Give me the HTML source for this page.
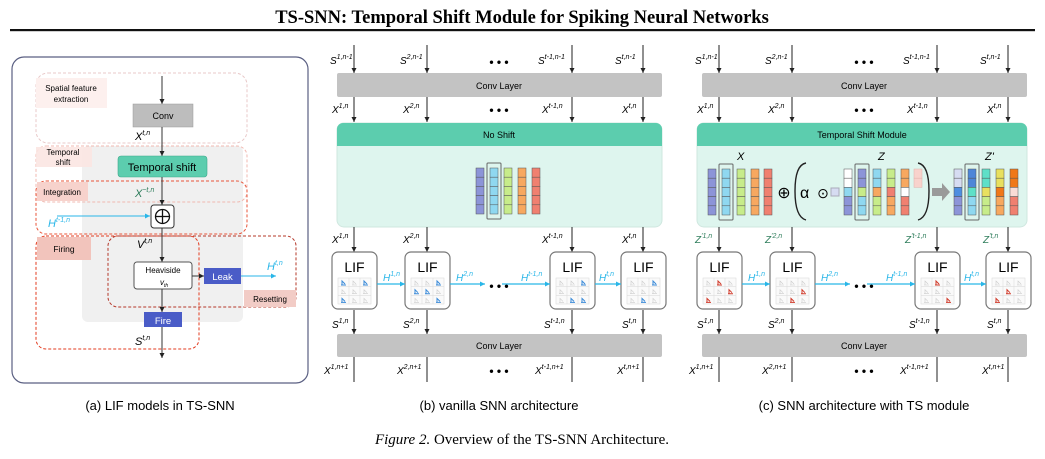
<!DOCTYPE html>
<html><head><meta charset="utf-8"><style>
html,body{margin:0;padding:0;background:#fff}
svg{display:block}
.s{font-family:"Liberation Sans",sans-serif}
.i{font-family:"Liberation Sans",sans-serif;font-style:italic}
</style></head><body>
<svg id="g" width="1045" height="459" viewBox="0 0 1045 459" xmlns="http://www.w3.org/2000/svg">
<defs>
<marker id="ab" markerWidth="6" markerHeight="6" refX="5" refY="3" orient="auto" markerUnits="userSpaceOnUse"><path d="M0,0.5 L5,3 L0,5.5z" fill="#222"/></marker>
<marker id="ac" markerWidth="6" markerHeight="6" refX="5" refY="3" orient="auto" markerUnits="userSpaceOnUse"><path d="M0,0.5 L5,3 L0,5.5z" fill="#29b6e8"/></marker>
</defs>
<text x="522" y="23" text-anchor="middle" font-family="Liberation Serif,serif" font-weight="bold" font-size="18.5">TS-SNN: Temporal Shift Module for Spiking Neural Networks</text>
<rect x="10" y="29" width="1025" height="2.2" fill="#111"/>

<!-- Panel A -->
<rect x="12" y="57" width="296" height="326" rx="12" fill="#fff" stroke="#5a5f82" stroke-width="1.2"/>
<rect x="82" y="146" width="161" height="176" rx="6" fill="#f0f0f0"/>
<rect x="36" y="73" width="211" height="70" rx="12" fill="none" stroke="#e8c8c8" stroke-dasharray="3,2"/>
<rect x="36" y="78" width="71" height="30" fill="#fdf0ee"/>
<text class="s" x="71" y="91" font-size="8" text-anchor="middle">Spatial feature</text>
<text class="s" x="71" y="102" font-size="8" text-anchor="middle">extraction</text>
<rect x="36" y="146" width="211" height="56" rx="10" fill="none" stroke="#f0b8b0" stroke-dasharray="3,2"/>
<rect x="36" y="147" width="56" height="20" fill="#fbe6e2" opacity="0.9"/>
<text class="s" x="63" y="155" font-size="8" text-anchor="middle">Temporal</text>
<text class="s" x="63" y="165" font-size="8" text-anchor="middle">shift</text>
<rect x="36" y="181" width="211" height="53" rx="10" fill="none" stroke="#e8553a" stroke-dasharray="3,2"/>
<rect x="37" y="182" width="51" height="19" fill="#f7d2cc"/>
<text class="s" x="62" y="195" font-size="8" text-anchor="middle">Integration</text>
<rect x="36" y="236" width="163" height="113" rx="10" fill="none" stroke="#e33b1f" stroke-dasharray="3,2"/>
<rect x="37" y="237" width="54" height="23" fill="#f2c4bc"/>
<text class="s" x="64" y="252" font-size="8.5" text-anchor="middle">Firing</text>
<rect x="108" y="236" width="188" height="71" rx="10" fill="none" stroke="#b5382a" stroke-dasharray="3,2"/>
<rect x="244" y="290" width="52" height="17" fill="#f2ccc6"/>
<text class="s" x="270" y="302" font-size="8" text-anchor="middle">Resetting</text>
<line x1="162" y1="76" x2="162" y2="104" stroke="#333" marker-end="url(#ab)"/>
<rect x="133" y="104" width="60" height="23" fill="#bdbdbd" stroke="#999" stroke-width=".5"/>
<text class="s" x="163" y="119" font-size="9" text-anchor="middle">Conv</text>
<line x1="162" y1="127" x2="162" y2="156" stroke="#333" marker-end="url(#ab)"/>
<text class="i" x="135" y="140" font-size="11">X<tspan dy="-5" font-size="7">t,n</tspan></text>
<rect x="118" y="156" width="89" height="21" rx="3" fill="#5ccdae" stroke="#3da88a" stroke-width=".6"/>
<text class="s" x="162" y="171" font-size="11" text-anchor="middle">Temporal shift</text>
<line x1="162" y1="177" x2="162" y2="205" stroke="#333" marker-end="url(#ab)"/>
<text class="i" x="135" y="197" font-size="11" fill="#2e7d5b">X<tspan dy="-5" font-size="7">~t,n</tspan></text>
<rect x="151" y="205" width="23" height="23" rx="3" fill="#fff" stroke="#333"/>
<circle cx="162.5" cy="216.5" r="7" fill="none" stroke="#111" stroke-width="1.3"/>
<line x1="155.5" y1="216.5" x2="169.5" y2="216.5" stroke="#111" stroke-width="1.3"/>
<line x1="162.5" y1="209.5" x2="162.5" y2="223.5" stroke="#111" stroke-width="1.3"/>
<line x1="57" y1="216" x2="150" y2="216" stroke="#29b6e8" marker-end="url(#ac)"/>
<text class="i" x="48" y="227" font-size="11" fill="#29b6e8">H<tspan dy="-5" font-size="7">t-1,n</tspan></text>
<line x1="162" y1="228" x2="162" y2="262" stroke="#333" marker-end="url(#ab)"/>
<text class="i" x="137" y="248" font-size="11">V<tspan dy="-5" font-size="7">t,n</tspan></text>
<rect x="134" y="262" width="58" height="27" rx="3" fill="#fff" stroke="#555"/>
<text class="s" x="163" y="273" font-size="8" text-anchor="middle">Heaviside</text>
<text class="i" x="160" y="285" font-size="8">v<tspan dy="2" font-size="5">th</tspan></text>
<line x1="192" y1="276" x2="204" y2="276" stroke="#333" marker-end="url(#ab)"/>
<rect x="204" y="268" width="37" height="16" fill="#4a5cc7"/>
<text class="s" x="222.5" y="280" font-size="9.5" fill="#fff" text-anchor="middle">Leak</text>
<line x1="241" y1="276" x2="276" y2="276" stroke="#29b6e8" marker-end="url(#ac)"/>
<text class="i" x="267" y="270" font-size="11" fill="#29b6e8">H<tspan dy="-5" font-size="7">t,n</tspan></text>
<line x1="162" y1="289" x2="162" y2="312" stroke="#333" marker-end="url(#ab)"/>
<rect x="144" y="312" width="38" height="15" fill="#4a5cc7"/>
<text class="s" x="163" y="324" font-size="9.5" fill="#fff" text-anchor="middle">Fire</text>
<line x1="162" y1="327" x2="162" y2="358" stroke="#333" marker-end="url(#ab)"/>
<text class="i" x="135" y="345" font-size="11">S<tspan dy="-5" font-size="7">t,n</tspan></text>
<text class="s" x="160" y="410" font-size="13" text-anchor="middle">(a) LIF models in TS-SNN</text>

<!-- Panel B -->
<g id="pb">
<rect x="337" y="73" width="325" height="24" rx="2" fill="#c3c3c3"/>
<text class="s" x="499" y="89" font-size="9" text-anchor="middle">Conv Layer</text>
<rect x="337" y="334" width="325" height="23" rx="2" fill="#c3c3c3"/>
<text class="s" x="499" y="349" font-size="9" text-anchor="middle">Conv Layer</text>
</g>
<rect x="337" y="123" width="325" height="104" rx="7" fill="#def5ee" stroke="#cfe7df"/>
<path d="M337,146 V129 a6,6 0 0 1 6,-6 H656 a6,6 0 0 1 6,6 V146z" fill="#5ccdae"/>
<text class="s" x="499" y="138" font-size="9" text-anchor="middle">No Shift</text>

<text class="i" x="330" y="64" font-size="10">S<tspan dy="-5" font-size="7">1,n-1</tspan></text>
<text class="i" x="400" y="64" font-size="10">S<tspan dy="-5" font-size="7">2,n-1</tspan></text>
<text class="i" x="538" y="64" font-size="10">S<tspan dy="-5" font-size="7">t-1,n-1</tspan></text>
<text class="i" x="615" y="64" font-size="10">S<tspan dy="-5" font-size="7">t,n-1</tspan></text>
<text class="i" x="332" y="113" font-size="10">X<tspan dy="-5" font-size="7">1,n</tspan></text>
<text class="i" x="403" y="113" font-size="10">X<tspan dy="-5" font-size="7">2,n</tspan></text>
<text class="i" x="542" y="113" font-size="10">X<tspan dy="-5" font-size="7">t-1,n</tspan></text>
<text class="i" x="622" y="113" font-size="10">X<tspan dy="-5" font-size="7">t,n</tspan></text>
<text class="i" x="332" y="243" font-size="10">X<tspan dy="-5" font-size="7">1,n</tspan></text>
<text class="i" x="403" y="243" font-size="10">X<tspan dy="-5" font-size="7">2,n</tspan></text>
<text class="i" x="542" y="243" font-size="10">X<tspan dy="-5" font-size="7">t-1,n</tspan></text>
<text class="i" x="622" y="243" font-size="10">X<tspan dy="-5" font-size="7">t,n</tspan></text>
<text class="i" x="332" y="328" font-size="10">S<tspan dy="-5" font-size="7">1,n</tspan></text>
<text class="i" x="403" y="328" font-size="10">S<tspan dy="-5" font-size="7">2,n</tspan></text>
<text class="i" x="544" y="328" font-size="10">S<tspan dy="-5" font-size="7">t-1,n</tspan></text>
<text class="i" x="622" y="328" font-size="10">S<tspan dy="-5" font-size="7">t,n</tspan></text>
<text class="i" x="324" y="374" font-size="10">X<tspan dy="-5" font-size="7">1,n+1</tspan></text>
<text class="i" x="397" y="374" font-size="10">X<tspan dy="-5" font-size="7">2,n+1</tspan></text>
<text class="i" x="535" y="374" font-size="10">X<tspan dy="-5" font-size="7">t-1,n+1</tspan></text>
<text class="i" x="617" y="374" font-size="10">X<tspan dy="-5" font-size="7">t,n+1</tspan></text>
<text class="s" x="499" y="66" font-size="12" text-anchor="middle" font-weight="bold">• • •</text>
<text class="s" x="499" y="114" font-size="12" text-anchor="middle" font-weight="bold">• • •</text>
<text class="s" x="499" y="290" font-size="12" text-anchor="middle" font-weight="bold">• • •</text>
<text class="s" x="499" y="375" font-size="12" text-anchor="middle" font-weight="bold">• • •</text>
<text class="i" x="383" y="281" font-size="10" fill="#29b6e8">H<tspan dy="-5" font-size="7">1,n</tspan></text>
<text class="i" x="456" y="281" font-size="10" fill="#29b6e8">H<tspan dy="-5" font-size="7">2,n</tspan></text>
<text class="i" x="521" y="281" font-size="10" fill="#29b6e8">H<tspan dy="-5" font-size="7">t-1,n</tspan></text>
<text class="i" x="599" y="281" font-size="10" fill="#29b6e8">H<tspan dy="-5" font-size="7">t,n</tspan></text>
<text class="s" x="499" y="410" font-size="13" text-anchor="middle">(b) vanilla SNN architecture</text>

<!-- Panel C -->
<rect x="702" y="73" width="325" height="24" rx="2" fill="#c3c3c3"/>
<text class="s" x="864" y="89" font-size="9" text-anchor="middle">Conv Layer</text>
<rect x="702" y="334" width="325" height="23" rx="2" fill="#c3c3c3"/>
<text class="s" x="864" y="349" font-size="9" text-anchor="middle">Conv Layer</text>
<rect x="697" y="123" width="330" height="104" rx="7" fill="#def5ee" stroke="#cfe7df"/>
<path d="M697,146 V129 a6,6 0 0 1 6,-6 H1021 a6,6 0 0 1 6,6 V146z" fill="#5ccdae"/>
<text class="s" x="862" y="138" font-size="9" text-anchor="middle">Temporal Shift Module</text>
<text class="i" x="737" y="160" font-size="11">X</text>
<text class="i" x="878" y="160" font-size="11">Z</text>
<text class="i" x="985" y="160" font-size="11">Z'</text>
<text class="s" x="784" y="198" font-size="16" text-anchor="middle">⊕</text>
<text class="s" x="800" y="198" font-size="16">α</text>
<text class="s" x="823" y="198" font-size="14" text-anchor="middle">⊙</text>
<rect x="831" y="188" width="8" height="8" fill="#d6dcf2" stroke="#aab"/>
<path d="M806,163 Q795,165 795,191 Q795,217 806,220" fill="none" stroke="#222" stroke-width="1.4"/>
<path d="M918,163 Q929,165 929,191 Q929,217 918,220" fill="none" stroke="#222" stroke-width="1.4"/>
<path d="M932,188 H942 V183 L950,192 L942,201 V196 H932z" fill="#9a9a9a"/>

<text class="i" x="695" y="243" font-size="10" fill="#2e7d5b">Z<tspan dy="-5" font-size="7">'1,n</tspan></text>
<text class="i" x="765" y="243" font-size="10" fill="#2e7d5b">Z<tspan dy="-5" font-size="7">'2,n</tspan></text>
<text class="i" x="905" y="243" font-size="10" fill="#2e7d5b">Z<tspan dy="-5" font-size="7">'t-1,n</tspan></text>
<text class="i" x="983" y="243" font-size="10" fill="#2e7d5b">Z<tspan dy="-5" font-size="7">'t,n</tspan></text>
<text class="i" x="695" y="64" font-size="10">S<tspan dy="-5" font-size="7">1,n-1</tspan></text>
<text class="i" x="765" y="64" font-size="10">S<tspan dy="-5" font-size="7">2,n-1</tspan></text>
<text class="i" x="903" y="64" font-size="10">S<tspan dy="-5" font-size="7">t-1,n-1</tspan></text>
<text class="i" x="980" y="64" font-size="10">S<tspan dy="-5" font-size="7">t,n-1</tspan></text>
<text class="i" x="697" y="113" font-size="10">X<tspan dy="-5" font-size="7">1,n</tspan></text>
<text class="i" x="768" y="113" font-size="10">X<tspan dy="-5" font-size="7">2,n</tspan></text>
<text class="i" x="907" y="113" font-size="10">X<tspan dy="-5" font-size="7">t-1,n</tspan></text>
<text class="i" x="987" y="113" font-size="10">X<tspan dy="-5" font-size="7">t,n</tspan></text>
<text class="i" x="697" y="328" font-size="10">S<tspan dy="-5" font-size="7">1,n</tspan></text>
<text class="i" x="768" y="328" font-size="10">S<tspan dy="-5" font-size="7">2,n</tspan></text>
<text class="i" x="909" y="328" font-size="10">S<tspan dy="-5" font-size="7">t-1,n</tspan></text>
<text class="i" x="987" y="328" font-size="10">S<tspan dy="-5" font-size="7">t,n</tspan></text>
<text class="i" x="689" y="374" font-size="10">X<tspan dy="-5" font-size="7">1,n+1</tspan></text>
<text class="i" x="762" y="374" font-size="10">X<tspan dy="-5" font-size="7">2,n+1</tspan></text>
<text class="i" x="900" y="374" font-size="10">X<tspan dy="-5" font-size="7">t-1,n+1</tspan></text>
<text class="i" x="982" y="374" font-size="10">X<tspan dy="-5" font-size="7">t,n+1</tspan></text>
<text class="s" x="864" y="66" font-size="12" text-anchor="middle" font-weight="bold">• • •</text>
<text class="s" x="864" y="114" font-size="12" text-anchor="middle" font-weight="bold">• • •</text>
<text class="s" x="864" y="290" font-size="12" text-anchor="middle" font-weight="bold">• • •</text>
<text class="s" x="864" y="375" font-size="12" text-anchor="middle" font-weight="bold">• • •</text>
<text class="i" x="748" y="281" font-size="10" fill="#29b6e8">H<tspan dy="-5" font-size="7">1,n</tspan></text>
<text class="i" x="821" y="281" font-size="10" fill="#29b6e8">H<tspan dy="-5" font-size="7">2,n</tspan></text>
<text class="i" x="886" y="281" font-size="10" fill="#29b6e8">H<tspan dy="-5" font-size="7">t-1,n</tspan></text>
<text class="i" x="964" y="281" font-size="10" fill="#29b6e8">H<tspan dy="-5" font-size="7">t,n</tspan></text>
<text class="s" x="864" y="410" font-size="13" text-anchor="middle">(c) SNN architecture with TS module</text>

<text x="522" y="444" text-anchor="middle" font-family="Liberation Serif,serif" font-size="15"><tspan font-style="italic">Figure 2.</tspan> Overview of the TS-SNN Architecture.</text>

<g id="dyn"></g>
</svg>
<script>
(function(){
var NS="http://www.w3.org/2000/svg",g=document.getElementById("dyn");
function el(t,a){var e=document.createElementNS(NS,t);for(var k in a)e.setAttribute(k,a[k]);g.appendChild(e);return e;}
function arr(x,y1,y2,c){el("line",{x1:x,y1:y1,x2:x,y2:y2,stroke:c||"#222","stroke-width":1,"marker-end":c?"url(#ac)":"url(#ab)"});}
function harr(x1,x2,y){el("line",{x1:x1,y1:y,x2:x2,y2:y,stroke:"#29b6e8","stroke-width":1.2,"marker-end":"url(#ac)"});}
function col(x,y,cols,w,h){for(var i=0;i<cols.length;i++){if(!cols[i])continue;el("rect",{x:x,y:y+i*h,width:w,height:h,fill:cols[i],stroke:"#555","stroke-width":0.5});}}
var P="#8c94d8",B="#8fd8f0",G="#c7ec8a",O="#f7a860",R="#f08070",W="#ffffff",L="#d6dcf2",PK="#f8d2cc";
var cols=[[P,P,P,P,P],[B,B,B,B,B],[G,G,G,G,G],[O,O,O,O,O],[R,R,R,R,R]];
// panel b
var bx=[476,490,504,518,532];
for(var i=0;i<5;i++)col(bx[i],168,cols[i],8,9.2);
el("rect",{x:487,y:163,width:14,height:56,fill:"none",stroke:"#666","stroke-width":1,rx:1});
// panel c X
var xx=[708,722,737,751,764];
for(i=0;i<5;i++)col(xx[i],169,cols[i],8,9.2);
el("rect",{x:719,y:164,width:14,height:56,fill:"none",stroke:"#666","stroke-width":1,rx:1});
var zx=[844,858,873,887,901];
var zc=[[W,W,B,P,P],[P,P,G,B,B],[B,B,O,G,G],[G,G,R,O,O],[O,O,W,R,R]];
for(i=0;i<5;i++)col(zx[i],169,zc[i],8,9.2);
el("rect",{x:914,y:169,width:8,height:9.2,fill:PK,stroke:"#e0b0aa","stroke-width":0.5});
el("rect",{x:914,y:178.2,width:8,height:9.2,fill:PK,stroke:"#e0b0aa","stroke-width":0.5});
el("rect",{x:855,y:164,width:14,height:56,fill:"none",stroke:"#666","stroke-width":1,rx:1});
var qx=[954,968,982,996,1010];
var qc=[[L,L,"#4e8ee0",P,P],["#4e86d8","#4e86d8","#5ee0c8",B,B],["#5ee0c8","#5ee0c8","#e8e060",G,G],["#e8e060","#e8e060","#f07818",O,O],["#f07818","#f07818","#fadcd6",R,R]];
for(i=0;i<5;i++)col(qx[i],169,qc[i],8,9.2);
el("rect",{x:965,y:164,width:14,height:56,fill:"none",stroke:"#666","stroke-width":1,rx:1});
// columns + LIF
var pats={b:[[1,0,1,0,0,0,1,0,0],[0,0,1,1,1,0,0,0,1],[0,0,1,0,0,0,0,1,1],[0,0,1,0,0,0,0,1,0]],
c:[[0,1,0,0,0,1,1,0,0],[0,0,0,0,0,1,0,1,0],[0,1,0,0,0,0,0,0,1],[0,0,0,0,1,0,1,0,0]]};
function panel(off,pat,hot){
 var X=[354,427,572,643];
 for(var k=0;k<4;k++){
  var x=X[k]+off;
  arr(x,45,73);arr(x,97,122);arr(x,227,252);arr(x,310,334);
  el("line",{x1:x,y1:357,x2:x,y2:382,stroke:"#222"});
  var lx=x-22;
  el("rect",{x:lx,y:252,width:45,height:57,rx:6,fill:"#fff",stroke:"#777","stroke-width":1.2});
  var t=el("text",{x:x+0.5,y:272,"font-size":14,"text-anchor":"middle","class":"s"});t.textContent="LIF";
  var gx=lx+6,gy=278,cw=11,ch=8.7;
  el("rect",{x:gx,y:gy,width:33,height:26,fill:"#fafafa",stroke:"#ddd","stroke-width":0.6});
  for(var r=1;r<3;r++){el("line",{x1:gx,y1:gy+r*ch,x2:gx+33,y2:gy+r*ch,stroke:"#ddd","stroke-width":0.6});el("line",{x1:gx+r*cw,y1:gy,x2:gx+r*cw,y2:gy+26,stroke:"#ddd","stroke-width":0.6});}
  for(var c=0;c<9;c++){var cx=gx+(c%3)*cw+3,cy=gy+Math.floor(c/3)*ch+2;var on=pat[k][c];
   el("path",{d:"M"+cx+","+(cy+5)+" h5 M"+(cx+1)+","+(cy+5)+" v-4 l2,2 l1,1",fill:"none",stroke:on?hot:"#ccc","stroke-width":on?1:0.6});}
 }
 harr(X[0]+off+23,X[1]+off-22,284);harr(X[1]+off+23,X[1]+off+58,284);
 harr(X[2]+off-70,X[2]+off-22,284);harr(X[2]+off+23,X[3]+off-22,284);
}
panel(0,pats.b,"#3a8ad8");panel(365,pats.c,"#d03a2a");
})();
</script>
</body></html>
